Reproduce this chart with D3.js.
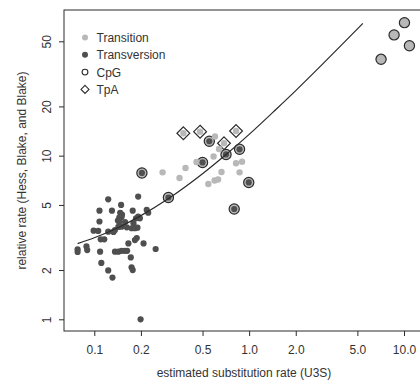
<!DOCTYPE html>
<html>
<head>
<meta charset="utf-8">
<script src="https://cdn.jsdelivr.net/npm/d3@7"></script>
<style>
  body { margin: 0; background: #fff; }
  svg { font-family: "Liberation Sans", Arial, sans-serif; }
  text { fill: #333; }
</style>
</head>
<body>
<svg width="420" height="385"></svg>
<script>
// points: [estimated U3S rate, relative rate]
const transversion = [
  [0.078,2.68],[0.078,2.58],[0.089,2.79],[0.090,2.65],[0.099,3.48],[0.108,4.61],
  [0.108,3.96],[0.106,3.47],[0.110,3.08],[0.116,3.08],[0.109,2.59],[0.111,2.21],
  [0.123,5.41],[0.123,3.43],[0.123,1.99],[0.131,1.80],[0.130,4.61],[0.136,3.51],
  [0.143,3.67],[0.142,4.01],[0.136,2.59],[0.143,2.59],[0.150,2.62],[0.149,5.00],
  [0.147,4.48],[0.150,4.22],[0.150,3.68],[0.158,3.93],[0.162,3.65],[0.157,2.62],
  [0.166,2.91],[0.174,3.60],[0.183,3.60],[0.177,4.61],[0.179,3.86],[0.186,4.14],
  [0.192,4.24],[0.183,3.05],[0.188,3.14],[0.172,2.39],[0.174,2.08],[0.177,2.00],
  [0.192,5.62],[0.208,2.91],[0.218,4.66],[0.223,4.48],[0.249,2.69],[0.199,1.00],
  [0.163,2.62],[0.145,4.18],[0.151,4.36],[0.145,3.95],[0.133,3.42],[0.184,3.63],
  [0.190,3.63],[0.197,4.14]
];
const transition = [
  [0.276,7.91],[0.355,7.31],[0.388,8.41],[0.457,9.15],[0.602,13.1],[0.589,9.89],
  [0.545,6.71],[0.598,7.05],[0.630,7.15],[0.663,7.95],[0.823,8.98],[0.900,9.19],
  [0.867,7.91],[0.639,10.99]
];
// CpG sites (ringed), split by the kind of the inner point
const cpgTransversion = [
  [0.203,7.84],[0.301,5.55],[0.500,9.09],[0.553,12.25],[0.709,10.17],
  [0.867,10.94],[0.994,6.86],[0.801,4.72]
];
const cpgTransition = [[7.11,38.8],[8.63,54.7],[10.07,65.0],[10.84,47.0]];
// TpA sites (diamonds), all transitions
const tpaTransition = [[0.376,13.71],[0.482,14.02],[0.688,11.91],[0.823,14.16]];

// fitted curve
const fitLine = [
  [0.078,2.9],[0.1,3.15],[0.15,3.72],[0.2,4.3],[0.3,5.45],[0.5,7.75],[0.7,10.05],
  [1,13.5],[1.5,19.3],[2,25],[3,36.5],[4,48],[5.42,64.3]
];

const xTicks = [0.1, 0.2, 0.5, 1, 2, 5, 10];
const xTickLabels = ["0.1", "0.2", "0.5", "1.0", "2.0", "5.0", "10.0"];
const yTicks = [1, 2, 5, 10, 20, 50];
const yTickLabels = ["1", "2", "5", "10", "20", "50"];
const legendItems = ["Transition", "Transversion", "CpG", "TpA"];

const box = {left: 64, top: 10, right: 424, bottom: 331};
const lightCol = "#b8b8b8", darkCol = "#4f4f4f", lineCol = "#2b2b2b";

const svg = d3.select("svg");

const x = d3.scaleLog().domain([0.1, 10]).range([94.3, 404]);
const y = d3.scaleLog().domain([1, 50]).range([319.3, 41.3]);

// plot frame
svg.append("rect")
  .attr("x", box.left).attr("y", box.top)
  .attr("width", box.right - box.left).attr("height", box.bottom - box.top)
  .attr("fill", "none").attr("stroke", lineCol).attr("stroke-width", 1);

// x axis
const xAxis = svg.append("g")
  .attr("transform", "translate(0," + box.bottom + ")")
  .call(d3.axisBottom(x).tickValues(xTicks)
    .tickFormat((d, i) => xTickLabels[i]).tickSize(5).tickSizeOuter(0));
xAxis.select(".domain").remove();
xAxis.selectAll("line").attr("stroke", lineCol);
xAxis.selectAll("text")
  .attr("y", 23).attr("dy", 0)
  .style("font-size", "12px").attr("fill", "#333");

// y axis, labels turned like R's default
const yAxis = svg.append("g")
  .attr("transform", "translate(" + box.left + ",0)")
  .call(d3.axisLeft(y).tickValues(yTicks)
    .tickFormat((d, i) => yTickLabels[i]).tickSize(5).tickSizeOuter(0));
yAxis.select(".domain").remove();
yAxis.selectAll("line").attr("stroke", lineCol);
yAxis.selectAll("text")
  .attr("transform", "rotate(-90)")
  .attr("x", 0).attr("y", -13).attr("dy", 0)
  .attr("text-anchor", "middle")
  .style("font-size", "12px").attr("fill", "#333");

// axis titles
svg.append("text")
  .attr("x", (box.left + box.right) / 2).attr("y", 377)
  .attr("text-anchor", "middle").style("font-size", "12px")
  .text("estimated substitution rate (U3S)");
svg.append("text")
  .attr("transform", "translate(26," + (box.top + box.bottom) / 2 + ") rotate(-90)")
  .attr("text-anchor", "middle").style("font-size", "12px")
  .text("relative rate (Hess, Blake, and Blake)");

const plot = svg.append("g");

// rings for CpG
plot.selectAll(".ring")
  .data(cpgTransversion.concat(cpgTransition))
  .join("circle")
  .attr("class", "ring")
  .attr("cx", d => x(d[0])).attr("cy", d => y(d[1]))
  .attr("r", 5.1)
  .attr("fill", lightCol).attr("stroke", lineCol).attr("stroke-width", 1.2);

// diamonds for TpA
const diamond = (cx, cy, s) =>
  "M" + cx + "," + (cy - s) + "L" + (cx + s) + "," + cy +
  "L" + cx + "," + (cy + s) + "L" + (cx - s) + "," + cy + "Z";
plot.selectAll(".tpa")
  .data(tpaTransition)
  .join("path")
  .attr("class", "tpa")
  .attr("d", d => diamond(x(d[0]), y(d[1]), 6.4))
  .attr("fill", "#fff").attr("stroke", lineCol).attr("stroke-width", 1.2);

// points
plot.selectAll(".ts")
  .data(transition.concat(cpgTransition, tpaTransition))
  .join("circle")
  .attr("class", "ts")
  .attr("cx", d => x(d[0])).attr("cy", d => y(d[1]))
  .attr("r", 3.2).attr("fill", lightCol);

plot.selectAll(".tv")
  .data(transversion.concat(cpgTransversion))
  .join("circle")
  .attr("class", "tv")
  .attr("cx", d => x(d[0])).attr("cy", d => y(d[1]))
  .attr("r", 3.1).attr("fill", darkCol);

// fitted curve
const line = d3.line()
  .x(d => x(d[0]))
  .y(d => y(d[1]))
  .curve(d3.curveMonotoneX);
plot.append("path")
  .datum(fitLine)
  .attr("d", line)
  .attr("fill", "none").attr("stroke", lineCol).attr("stroke-width", 1.2);

// legend
const legend = svg.append("g").attr("transform", "translate(85,37.5)");
legendItems.forEach((name, i) => {
  const row = legend.append("g").attr("transform", "translate(0," + (i * 17.3) + ")");
  if (i === 0) row.append("circle").attr("r", 3).attr("fill", lightCol);
  if (i === 1) row.append("circle").attr("r", 3).attr("fill", darkCol);
  if (i === 2) row.append("circle").attr("r", 2.9)
    .attr("fill", "none").attr("stroke", lineCol).attr("stroke-width", 1.1);
  if (i === 3) row.append("path").attr("d", diamond(0, 0, 4))
    .attr("fill", "none").attr("stroke", lineCol).attr("stroke-width", 1.1);
  row.append("text")
    .attr("x", 11.5).attr("y", 4.5)
    .style("font-size", "12px")
    .text(name);
});
</script>
</body>
</html>
